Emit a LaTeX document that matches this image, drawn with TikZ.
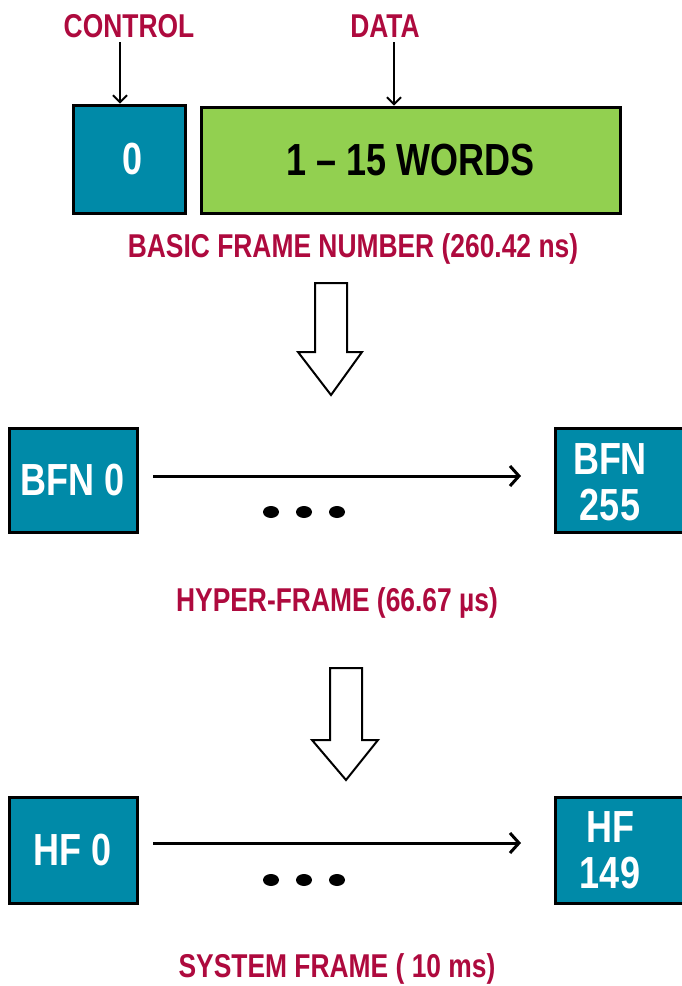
\documentclass[tikz,border=0pt]{standalone}
\usepackage{fontspec}
\setmainfont{Liberation Sans}[FakeStretch=0.8]
\usetikzlibrary{arrows.meta,calc}
\definecolor{teal}{HTML}{008AA8}
\definecolor{lime}{HTML}{92D050}
\definecolor{crimson}{HTML}{AE0A3E}
\tikzset{
  lbl/.style={text=crimson, font=\bfseries\fontsize{33}{36}\selectfont, inner sep=0pt},
  tealbox/.style={draw=black, line width=3pt, fill=teal, text=white, inner sep=0pt,
    font=\bfseries\fontsize{45}{46}\selectfont, align=center},
  boxtext/.style={text=white, inner sep=0pt, font=\bfseries\fontsize{45}{46}\selectfont, align=center},
  greenbox/.style={draw=black, line width=3pt, fill=lime, text=black, inner sep=0pt,
    font=\bfseries\fontsize{45}{46}\selectfont},
  thinarrow/.style={draw=black, line width=1.8pt, -{Straight Barb[length=7pt,width=14pt,line width=1.8pt]}},
  longarrow/.style={draw=black, line width=3pt, -{Straight Barb[length=9pt,width=20pt,line width=3pt]}},
  hollow/.style={draw=black, line width=2pt, fill=white, line join=miter},
  dot/.style={fill=black, draw=none}
}
\begin{document}
\begin{tikzpicture}[x=1pt, y=-1pt]
\useasboundingbox (0,0) rectangle (681,986);

% basic frame: control word and data words
\node[lbl] (ctl) at (129,26) {CONTROL};
\node[lbl] (dat) at (385,26) {DATA};
\node[tealbox, minimum width=112pt, minimum height=108pt] (b0) at (129,159) {};
\node[boxtext] (b0txt) at (133,159) {0};
\node[greenbox, minimum width=419pt, minimum height=106pt] (words) at (410.5,160) {1 -- 15 WORDS};
\coordinate (ctlTop) at (120,42);
\coordinate (datTop) at (394,42);
\draw[thinarrow] (ctlTop) -- (ctlTop |- b0.north);
\draw[thinarrow] (datTop) -- (datTop |- words.north);
\node[lbl] (bfnlbl) at (353,249) {BASIC FRAME NUMBER (260.42 ns)};

% hollow arrow down to the hyper-frame
\coordinate (h1) at (331,283);
\draw[hollow] ($(h1)+(-16,0)$) -- ++(32,0) -- ++(0,69) -- ++(15,0) -- ($(h1)+(0,112)$)
  -- ($(h1)+(-33,69)$) -- ++(17,0) -- cycle;

% hyper-frame: BFN 0 ... BFN 255
\node[tealbox, minimum width=128pt, minimum height=104pt] (bfn0) at (73,480) {BFN 0};
\node[tealbox, minimum width=128pt, minimum height=104pt] (bfn255) at (619,480) {};
\node[boxtext] (bfn255txt) at (610,482) {BFN\\255};
\coordinate (a1s) at (153,476);
\coordinate (a1e) at (521,476);
\draw[longarrow] (a1s) -- (a1e);
\fill[dot] (271,512) ellipse (8pt and 6pt);
\fill[dot] (304,512) ellipse (8pt and 6pt);
\fill[dot] (337,512) ellipse (8pt and 6pt);
\node[lbl] (hflbl) at (337,603) {HYPER-FRAME (66.67 µs)};

% hollow arrow down to the system frame
\coordinate (h2) at (346,668);
\draw[hollow] ($(h2)+(-16,0)$) -- ++(32,0) -- ++(0,72) -- ++(16,0) -- ($(h2)+(0,112)$)
  -- ($(h2)+(-34,72)$) -- ++(18,0) -- cycle;

% system frame: HF 0 ... HF 149
\node[tealbox, minimum width=128pt, minimum height=106pt] (hf0) at (73,850) {HF 0};
\node[tealbox, minimum width=128pt, minimum height=106pt] (hf149) at (619,850) {};
\node[boxtext] (hf149txt) at (610,850) {HF\\149};
\coordinate (a2s) at (153,843);
\coordinate (a2e) at (521,843);
\draw[longarrow] (a2s) -- (a2e);
\fill[dot] (271,880) ellipse (8pt and 6pt);
\fill[dot] (304,880) ellipse (8pt and 6pt);
\fill[dot] (337,880) ellipse (8pt and 6pt);
\node[lbl] (sflbl) at (337,969) {SYSTEM FRAME ( 10 ms)};
\end{tikzpicture}
\end{document}
